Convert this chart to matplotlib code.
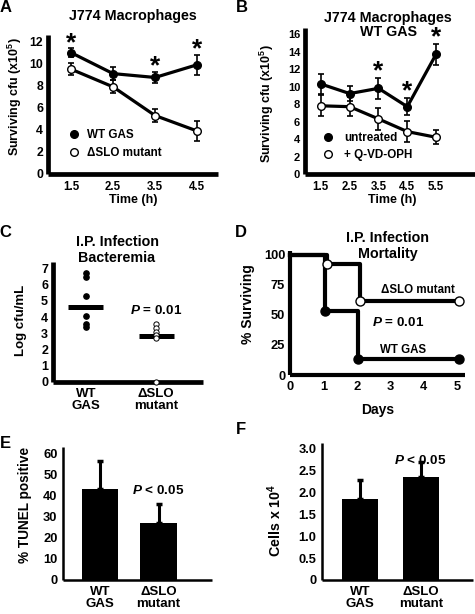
import numpy as np
import matplotlib
matplotlib.use("Agg")
import matplotlib.pyplot as plt
from matplotlib.lines import Line2D

plt.rcParams['font.family'] = ['Liberation Sans', 'DejaVu Sans']
plt.rcParams['font.weight'] = 'bold'
plt.rcParams['mathtext.fontset'] = 'custom'
plt.rcParams['mathtext.rm'] = 'Liberation Sans:bold'
plt.rcParams['mathtext.it'] = 'Liberation Sans:italic:bold'
plt.rcParams['mathtext.bf'] = 'Liberation Sans:bold'

# --- data ---
# A: J774 macrophages, WT GAS vs dSLO mutant
time_a = [1.5, 2.5, 3.5, 4.5]
wt_a = [11.0, 9.1, 8.75, 9.9]
wt_a_err = [0.4, 0.6, 0.5, 0.9]
slo_a = [9.5, 7.9, 5.3, 3.9]
slo_a_err = [0.55, 0.6, 0.6, 0.9]
stars_a = [1.5, 3.5, 4.5]

# B: J774 macrophages, WT GAS untreated vs Q-VD-OPH
time_b = [1.5, 2.5, 3.5, 4.5, 5.5]
untr_b = [10.3, 9.2, 9.8, 7.7, 13.7]
untr_b_err = [1.1, 0.9, 1.2, 1.0, 1.2]
qvd_b = [7.8, 7.7, 6.3, 4.85, 4.2]
qvd_b_err = [1.2, 1.1, 1.3, 1.2, 0.8]
stars_b = [3.5, 4.5, 5.5]

# C: bacteremia, log cfu/mL
groups = ['WT\nGAS', '\u0394SLO\nmutant']
wt_c = [6.7, 6.5, 5.3, 4.1, 3.6, 3.4]
slo_c = [3.6, 3.35, 3.1, 2.9, 2.7, 0.0]
means_c = [4.6, 2.85]

# D: mortality (% surviving)
days_wt = [0, 1.05, 2.05, 5.05]
surv_wt = [100, 53.3, 13.3, 13.3]
days_slo = [0, 1.1, 2.1, 5.05]
surv_slo = [100, 92.3, 61.5, 61.5]

# E: TUNEL
tunel = [43, 27]
tunel_err = [13.5, 9]

# F: cells x 10^4
cells = [1.85, 2.35]
cells_err = [0.43, 0.33]

W, H = 475, 614
fig = plt.figure(figsize=(W / 100, H / 100), dpi=100)


def box(l, r, t, b):
    return [l / W, 1 - b / H, (r - l) / W, (b - t) / H]


def ftext(x, y, s, **kw):
    kw.setdefault('ha', 'center')
    kw.setdefault('va', 'center')
    fig.text(x / W, 1 - y / H, s, **kw)


def style(ax, lw):
    for s in ['top', 'right']:
        ax.spines[s].set_visible(False)
    for s in ['left', 'bottom']:
        ax.spines[s].set_linewidth(lw)
        ax.spines[s].set_capstyle('butt')
    ax.tick_params(length=0)


def star(ax, x, y, dy):
    ax.annotate('$*$', (x, y), xytext=(0, dy), textcoords='offset points',
                ha='center', va='baseline', fontsize=19)


leg_prop = {'size': 8.4, 'weight': 'bold'}

# ---------- A ----------
ax = fig.add_axes(box(48, 218, 35, 174))
style(ax, 3.4)
ax.errorbar(time_a, wt_a, yerr=wt_a_err, fmt='none', ecolor='k', elinewidth=1.2, capsize=2.5, capthick=1.2)
ax.errorbar(time_a, slo_a, yerr=slo_a_err, fmt='none', ecolor='k', elinewidth=1.2, capsize=2.5, capthick=1.2)
ax.plot(time_a, wt_a, '-o', color='k', lw=2.3, ms=5.5, mfc='k')
ax.plot(time_a, slo_a, '-o', color='k', lw=2.3, ms=5.5, mfc='white', mew=1)
for x in stars_a:
    i = time_a.index(x)
    star(ax, x, wt_a[i] + wt_a_err[i], -0.5)
ax.set_xlim(0.95, 5.0)
ax.set_ylim(0, 12.6)
ax.set_xticks(time_a)
ax.set_yticks(range(0, 13, 2))
ax.tick_params(axis='y', labelsize=8.8, pad=3.5)
ax.tick_params(axis='x', labelsize=8.3, pad=5)
h = [Line2D([], [], ls='none', marker='o', color='k', mfc='k', ms=5.5),
     Line2D([], [], ls='none', marker='o', color='k', mfc='white', ms=5.5, mew=1)]
ax.legend(h, ['WT GAS', '\u0394SLO mutant'], loc='center left', bbox_to_anchor=(0.087, 0.216),
          frameon=False, borderpad=0, handlelength=1.0, handletextpad=0.6, labelspacing=0.45,
          prop=leg_prop)
ftext(133, 16, 'J774 Macrophages', fontsize=10.3)
ftext(15, 97, 'Surviving cfu (x10$^5$)', fontsize=9, rotation=90)
ftext(133, 200, 'Time (h)', fontsize=9)
ftext(6, 8, 'A', fontsize=12)

# ---------- B ----------
ax = fig.add_axes(box(305, 475, 28, 174))
style(ax, 3.4)
ax.errorbar(time_b, untr_b, yerr=untr_b_err, fmt='none', ecolor='k', elinewidth=1.2, capsize=2.5, capthick=1.2)
ax.errorbar(time_b, qvd_b, yerr=qvd_b_err, fmt='none', ecolor='k', elinewidth=1.2, capsize=2.5, capthick=1.2)
ax.plot(time_b, untr_b, '-o', color='k', lw=2.3, ms=5.5, mfc='k')
ax.plot(time_b, qvd_b, '-o', color='k', lw=2.3, ms=5.5, mfc='white', mew=1)
for x in stars_b:
    i = time_b.index(x)
    star(ax, x, untr_b[i] + untr_b_err[i], 0.3)
ax.set_xlim(0.95, 6.85)
ax.set_ylim(0, 16.7)
ax.set_xticks(time_b)
ax.set_yticks(range(0, 17, 2))
ax.tick_params(axis='y', labelsize=8, pad=3.5)
ax.tick_params(axis='x', labelsize=8.3, pad=5)
h = [Line2D([], [], ls='none', marker='o', color='k', mfc='k', ms=5.5),
     Line2D([], [], ls='none', marker='o', color='k', mfc='white', ms=5.5, mew=1)]
ax.legend(h, ['untreated', '+ Q-VD-OPH'], loc='center left', bbox_to_anchor=(0.064, 0.188),
          frameon=False, borderpad=0, handlelength=1.0, handletextpad=0.95, labelspacing=0.45,
          prop=leg_prop)
ftext(388, 18, 'J774 Macrophages', fontsize=10.3)
ftext(388, 32, 'WT GAS', fontsize=10.3)
ftext(267, 104, 'Surviving cfu (x10$^5$)', fontsize=9, rotation=90)
ftext(392, 200, 'Time (h)', fontsize=9)
ftext(242, 8, 'B', fontsize=12)

# ---------- C ----------
ax = fig.add_axes(box(53, 203, 262, 382))
style(ax, 3.4)
ax.plot([1] * len(wt_c), wt_c, 'o', color='k', ms=3.8, clip_on=False)
ax.plot([2] * len(slo_c), slo_c, 'o', color='k', mfc='white', ms=3.8, mew=0.7, clip_on=False, zorder=3)
for i, m in enumerate(means_c):
    ax.plot([i + 1 - 0.25, i + 1 + 0.25], [m, m], color='k', lw=3.6, solid_capstyle='butt', zorder=2)
ax.set_xlim(0.53, 2.67)
ax.set_ylim(0, 7.4)
ax.set_yticks(range(0, 8))
ax.set_xticks([1, 2])
ax.set_xticklabels(groups, linespacing=1.0)
ax.tick_params(axis='y', labelsize=9, pad=3.5)
ax.tick_params(axis='x', labelsize=9.5, pad=4)
ax.text(2, 4.4, '$P$ = 0.01', ha='center', va='center', fontsize=9.7)
ftext(117, 242, 'I.P. Infection', fontsize=10.3)
ftext(117, 258, 'Bacteremia', fontsize=10.3)
ftext(21, 320, 'Log cfu/mL', fontsize=9.5, rotation=90)
ftext(5, 233, 'C', fontsize=12)

# ---------- D ----------
ax = fig.add_axes(box(290, 465, 251, 375))
style(ax, 3.0)
ax.step(days_wt, surv_wt, where='post', color='k', lw=3.0, clip_on=False)
ax.step(days_slo, surv_slo, where='post', color='k', lw=3.0, clip_on=False)
ax.plot(days_wt[1:], surv_wt[1:], 'o', color='k', ms=6.5, clip_on=False, zorder=4)
ax.plot(days_slo[1:], surv_slo[1:], 'o', color='k', mfc='white', ms=6.5, mew=1, clip_on=False, zorder=4)
ax.set_xlim(0, 5.24)
ax.set_ylim(0, 103)
ax.set_xticks(range(0, 6))
ax.set_yticks([0, 25, 50, 75, 100])
ax.tick_params(axis='y', labelsize=9.3, pad=3.5)
ax.tick_params(axis='x', labelsize=9.3, pad=4)
ftext(418, 290, '\u0394SLO mutant', fontsize=8.3)
ftext(398, 322, '$P$ = 0.01', fontsize=9.7)
ftext(403, 350, 'WT GAS', fontsize=8.3)
ftext(388, 238, 'I.P. Infection', fontsize=10.3)
ftext(388, 254, 'Mortality', fontsize=10.3)
ftext(248, 304, '% Surviving', fontsize=10, rotation=90)
ftext(378, 410, 'Days', fontsize=10)
ftext(241, 233, 'D', fontsize=12)

# ---------- E ----------
ax = fig.add_axes(box(63, 212, 447, 580))
style(ax, 1.8)
ax.bar([1, 2], tunel, width=0.62, color='k', zorder=2)
ax.errorbar([1, 2], tunel, yerr=[[0, 0], tunel_err], fmt='none', ecolor='k', elinewidth=2.2,
            capsize=2.5, capthick=2.5, zorder=1)
ax.set_xlim(0.37, 2.91)
ax.set_ylim(0, 63)
ax.set_yticks(range(0, 61, 10))
ax.set_xticks([1, 2])
ax.set_xticklabels(groups, linespacing=1.0)
ax.tick_params(axis='y', labelsize=9.3, pad=4)
ax.tick_params(axis='x', labelsize=9.5, pad=4)
ftext(158, 491, '$P$ < 0.05', fontsize=9.7)
ftext(25, 505, '% TUNEL positive', fontsize=9.8, rotation=90)
ftext(5, 443, 'E', fontsize=12)

# ---------- F ----------
ax = fig.add_axes(box(322, 473, 443, 580))
style(ax, 1.8)
ax.bar([1, 2], cells, width=0.59, color='k', zorder=2)
ax.errorbar([1, 2], cells, yerr=[[0, 0], cells_err], fmt='none', ecolor='k', elinewidth=2.2,
            capsize=2.5, capthick=2.5, zorder=1)
ax.set_xlim(0.38, 2.85)
ax.set_ylim(0, 3.12)
ax.set_yticks([0, 0.5, 1.0, 1.5, 2.0, 2.5, 3.0])
ax.set_yticklabels(['0', '0.5', '1.0', '1.5', '2.0', '2.5', '3.0'])
ax.set_xticks([1, 2])
ax.set_xticklabels(groups, linespacing=1.0)
ax.tick_params(axis='y', labelsize=9.3, pad=4)
ax.tick_params(axis='x', labelsize=9.5, pad=4)
ftext(420, 460, '$P$ < 0.05', fontsize=9.7)
ftext(275, 520, 'Cells x 10$^4$', fontsize=10.3, rotation=90)
ftext(241, 429, 'F', fontsize=12)

fig.savefig('out.png', dpi=100)
